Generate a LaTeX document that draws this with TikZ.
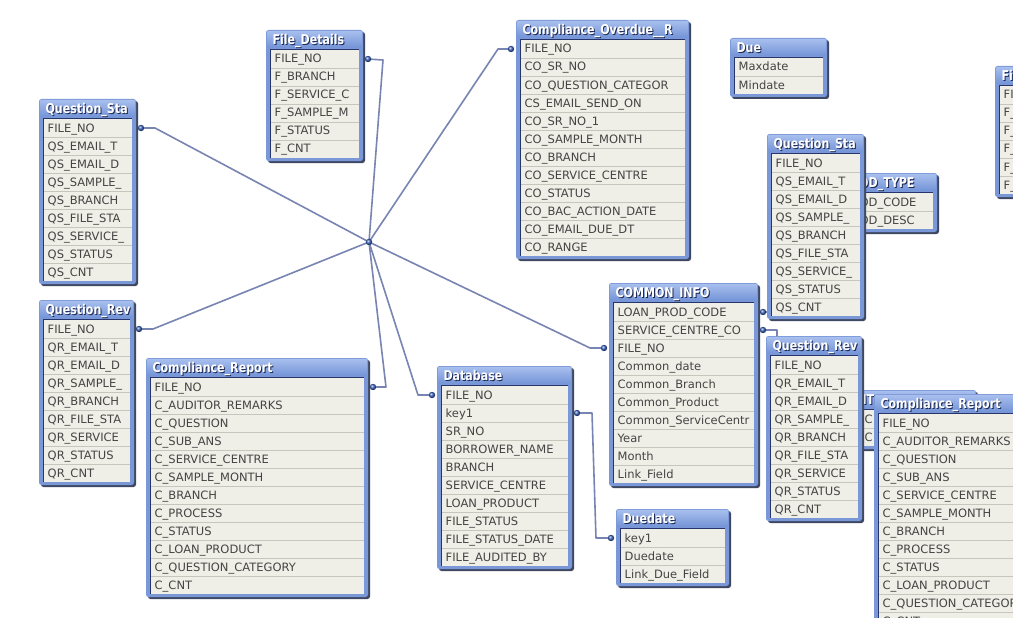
\documentclass[tikz,border=0pt]{standalone}
\usepackage{fontspec}
\setmainfont{DejaVu Sans}
\newfontfamily\titfont{DejaVu Sans}[FakeStretch=0.82]
\pgfdeclarelayer{back}
\pgfdeclarelayer{bg}
\pgfsetlayers{back,bg,main}
\definecolor{framec}{HTML}{7A98D8}
\definecolor{headtop}{HTML}{A8BFEE}
\definecolor{headbot}{HTML}{7393D6}
\definecolor{navyc}{HTML}{26366C}
\definecolor{shadowc}{HTML}{3E4862}
\definecolor{rowc}{HTML}{EFEEE7}
\definecolor{sepc}{HTML}{C6C6BE}
\definecolor{textc}{HTML}{444444}
\definecolor{titshadow}{HTML}{1E2A55}
\definecolor{linec}{HTML}{7884B2}
\definecolor{dotc}{HTML}{3A62C0}
\tikzset{
  rowtxt/.style={inner sep=0pt, anchor=base west, text=textc, font=\fontsize{11.5}{12}\selectfont},
  tittxt/.style={inner sep=0pt, anchor=base west, text=white, font=\titfont\bfseries\fontsize{13.5}{14}\selectfont},
  conn/.style={draw=linec, line width=1.6pt, line join=round},
  dotball/.style={ball color=dotc}
}
% #1 name, #2 left, #3 right, #4 top, #5 rows, #6 title, #7 row list
\newcommand\qvtable[7]{%
  \pgfmathsetmacro\qB{#4+23+18*#5}%
  \fill[shadowc, rounded corners=2.5pt] (#2+2,#4+2) rectangle (#3+2,\qB+2);
  \fill[framec, rounded corners=2.5pt] (#2,#4) rectangle (#3,\qB);
  \shade[top color=headtop, bottom color=headbot, rounded corners=2pt] (#2+0.8,#4+0.8) rectangle (#3-0.8,#4+18);
  \fill[rowc] (#2+4,#4+19) rectangle (#3-4,\qB-3);
  \foreach \k in {2,...,#5} {
    \draw[sepc, line width=0.9pt] (#2+5,{#4+20+18*(\k-1)}) -- (#3-4,{#4+20+18*(\k-1)});
  }
  \draw[navyc, line width=1.4pt] (#2+4.5,\qB-3) -- (#2+4.5,#4+19.5) -- (#3-4,#4+19.5);
  \begin{scope}
    \clip (#2+5.2,#4+20) rectangle (#3-4,\qB-3);
    \foreach \t [count=\i] in {#7} {
      \node[rowtxt] (#1-r\i) at (#2+8.5,{#4+33+18*(\i-1)}) {\t};
    }
  \end{scope}
  \begin{scope}
    \clip (#2+2,#4) rectangle (#3-2,#4+18.5);
    \node[tittxt, text=titshadow] (#1-ts) at (#2+7.3,#4+15.3) {#6};
    \node[tittxt] (#1-title) at (#2+6.3,#4+14.3) {#6};
  \end{scope}
  \foreach \i in {1,...,#5} {
    \coordinate (#1-\i-w) at (#2-5,{#4+29+18*(\i-1)});
    \coordinate (#1-\i-e) at (#3+5,{#4+29+18*(\i-1)});
  }
}
\catcode`\_=12
\begin{document}
\begin{tikzpicture}[x=1pt,y=-1pt]
\useasboundingbox (0,0) rectangle (1013,618);
\begin{pgfonlayer}{back}
  \fill[white] (0,0) rectangle (1013,618);
\end{pgfonlayer}
\clip (0,0) rectangle (1013,618);

\qvtable{qs1}{39}{136}{99}{9}{Question_Sta}{FILE_NO,QS_EMAIL_T,QS_EMAIL_D,QS_SAMPLE_,QS_BRANCH,QS_FILE_STA,QS_SERVICE_,QS_STATUS,QS_CNT}
\qvtable{fd}{266}{363}{30}{6}{File_Details}{FILE_NO,F_BRANCH,F_SERVICE_C,F_SAMPLE_M,F_STATUS,F_CNT}
\qvtable{co}{516}{689}{20}{12}{Compliance_Overdue__R}{FILE_NO,CO_SR_NO,CO_QUESTION_CATEGOR,CS_EMAIL_SEND_ON,CO_SR_NO_1,CO_SAMPLE_MONTH,CO_BRANCH,CO_SERVICE_CENTRE,CO_STATUS,CO_BAC_ACTION_DATE,CO_EMAIL_DUE_DT,CO_RANGE}
\qvtable{due}{730}{827}{38}{2}{Due}{Maxdate,Mindate}
\qvtable{fi}{995}{1090}{66}{6}{File_Details}{FILE_NO,F_BRANCH,F_SERVICE_C,F_SAMPLE_M,F_STATUS,F_CNT}
\qvtable{pt}{836}{937}{173}{2}{PROD_TYPE}{PROD_CODE,PROD_DESC}
\qvtable{qs2}{767}{864}{134}{9}{Question_Sta}{FILE_NO,QS_EMAIL_T,QS_EMAIL_D,QS_SAMPLE_,QS_BRANCH,QS_FILE_STA,QS_SERVICE_,QS_STATUS,QS_CNT}
\qvtable{ci}{609}{758}{283}{10}{COMMON_INFO}{LOAN_PROD_CODE,SERVICE_CENTRE_CO,FILE_NO,Common_date,Common_Branch,Common_Product,Common_ServiceCentr,Year,Month,Link_Field}
\qvtable{it}{856}{976}{390}{2}{IT}{C,C}
\qvtable{qr2}{766}{862}{336}{9}{Question_Rev}{FILE_NO,QR_EMAIL_T,QR_EMAIL_D,QR_SAMPLE_,QR_BRANCH,QR_FILE_STA,QR_SERVICE,QR_STATUS,QR_CNT}
\qvtable{cr2}{874}{1080}{394}{12}{Compliance_Report}{FILE_NO,C_AUDITOR_REMARKS,C_QUESTION,C_SUB_ANS,C_SERVICE_CENTRE,C_SAMPLE_MONTH,C_BRANCH,C_PROCESS,C_STATUS,C_LOAN_PRODUCT,C_QUESTION_CATEGORY,C_CNT}
\qvtable{qr1}{39}{134}{300}{9}{Question_Rev}{FILE_NO,QR_EMAIL_T,QR_EMAIL_D,QR_SAMPLE_,QR_BRANCH,QR_FILE_STA,QR_SERVICE,QR_STATUS,QR_CNT}
\qvtable{cr1}{146}{368}{358}{12}{Compliance_Report}{FILE_NO,C_AUDITOR_REMARKS,C_QUESTION,C_SUB_ANS,C_SERVICE_CENTRE,C_SAMPLE_MONTH,C_BRANCH,C_PROCESS,C_STATUS,C_LOAN_PRODUCT,C_QUESTION_CATEGORY,C_CNT}
\qvtable{db}{437}{572}{366}{10}{Database}{FILE_NO,key1,SR_NO,BORROWER_NAME,BRANCH,SERVICE_CENTRE,LOAN_PRODUCT,FILE_STATUS,FILE_STATUS_DATE,FILE_AUDITED_BY}
\qvtable{dd}{616}{729}{509}{3}{Duedate}{key1,Duedate,Link_Due_Field}

\coordinate (hub) at (369,242);
\begin{pgfonlayer}{bg}
  \draw[conn] (qs1-1-e) -- ++(14,0) -- (hub);
  \draw[conn] (fd-1-e) -- ++(15,1) -- (hub);
  \draw[conn] (co-1-w) -- ++(-13,0) -- (hub);
  \draw[conn] (qr1-1-e) -- ++(14,0) -- (hub);
  \draw[conn] (cr1-1-e) -- ++(13,0) -- (hub);
  \draw[conn] (db-1-w) -- ++(-14,0) -- (hub);
  \draw[conn] (ci-3-w) -- ++(-14,0) -- (hub);
  \draw[conn] (db-2-e) -- ++(15,0) -- ([xshift=-15pt]dd-1-w) -- (dd-1-w);
  \coordinate (ciend) at ([shift={(14pt,-20pt)}]ci-2-e);
  \draw[conn] (ci-2-e) -- ++(14,0) -- (ciend);
  \draw[conn] (ci-1-e) -- ++(14,0) -- ([xshift=-9pt]pt-1-w) -- (pt-1-w);
  \foreach \c in {hub,qs1-1-e,fd-1-e,co-1-w,qr1-1-e,cr1-1-e,db-1-w,ci-3-w,db-2-e,dd-1-w,ci-2-e,ci-1-e,pt-1-w}
    \shade[dotball] (\c) circle (3.2);
\end{pgfonlayer}
\end{tikzpicture}
\end{document}
